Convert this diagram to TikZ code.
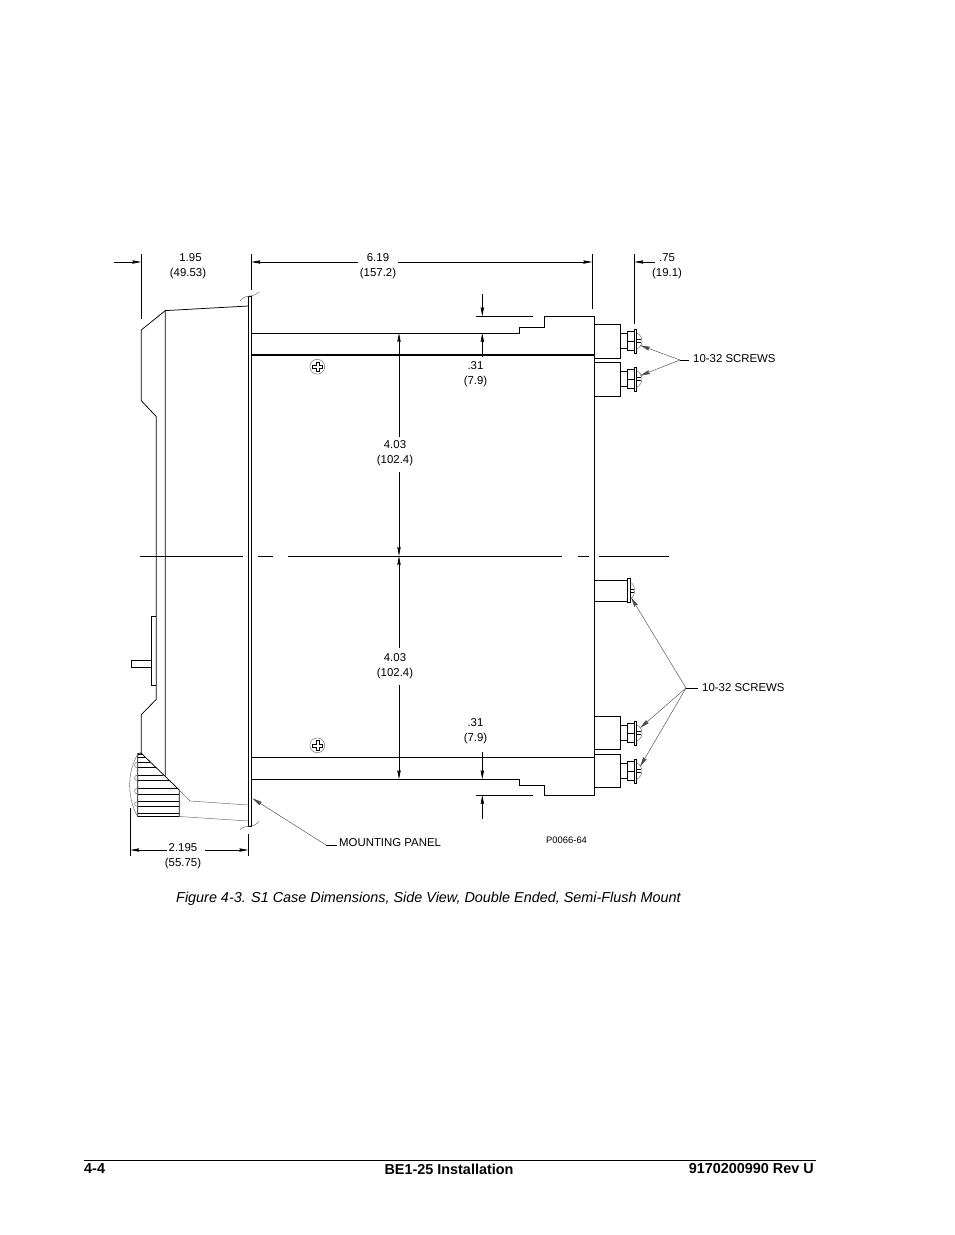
\documentclass[tikz,border=0pt]{standalone}
\usepackage{fontspec}
\setmainfont{Liberation Sans}
\usetikzlibrary{calc,arrows.meta}
\tikzset{
  part/.style={line width=0.75pt,line join=miter},
  thinpart/.style={line width=0.45pt,black!60},
  dimline/.style={line width=0.7pt},
  dimtip/.style={-{Stealth[length=9pt,width=3.4pt,inset=1pt]},line width=0.7pt},
  leader/.style={line width=0.45pt,black!70},
  leadertip/.style={-{Stealth[length=10pt,width=4pt,inset=1pt]},line width=0.45pt,black!70},
  dimtext/.style={font=\fontsize{11.4}{15}\selectfont,align=center,inner sep=0pt},
  labeltext/.style={font=\fontsize{11.4}{14}\selectfont,anchor=west,inner sep=0pt},
  pagetext/.style={font=\fontsize{14.4}{17}\selectfont\bfseries,inner sep=0pt}
}
\begin{document}
\begin{tikzpicture}[x=1pt,y=-1pt]
  \useasboundingbox (0,0) rectangle (954,1235);

  % dimension points
  \coordinate (dimA) at (114,262);
  \coordinate (dimB) at (141.3,262);
  \coordinate (dimC) at (251.3,262);
  \coordinate (dimD) at (592.3,262);
  \coordinate (dimE) at (634.3,262);
  \coordinate (dimF) at (655,262);
  \coordinate (midC) at (399,556);

  % case body
  \draw[part] (141.3,319) -- (141.3,254);
  \draw[part] (251.3,290) -- (251.3,254);
  \draw[part] (592.3,309) -- (592.3,254);
  \draw[part] (634.3,324) -- (634.3,254);
  \draw[part] (165.3,776) -- (165.3,310.6) -- (248.5,306);
  \draw[part] (165.3,310.6) -- (141.3,330) -- (141.3,400.7) -- (156.3,416.6) -- (156.3,699.3)
    -- (141.3,714.7) -- (141.3,753);

  % panel
  \draw[part] (248.5,296) rectangle (251.7,826);
  \draw[thinpart] (240,301) .. controls (243,296.5) and (247,296.5) .. (250,296)
    .. controls (254,295.5) and (256,294.5) .. (259,292);
  \draw[thinpart] (240,829.6) .. controls (243,826.5) and (247,826.5) .. (250,826)
    .. controls (254,825.5) and (257,824.5) .. (259,821);

  % handle
  \draw[part] (156.3,616) -- (151.3,616) -- (151.3,685) -- (156.3,685);
  \draw[part] (151.3,660.3) -- (131.5,660.3) -- (131.5,667.7) -- (151.3,667.7);
  \draw[line width=1.6pt] (131.5,660.3) -- (131.5,667.7);

  % knob
  \draw[part] (141,753) -- (179.3,790) -- (179.3,816.5) -- (137.7,816.5) -- (137.7,753.5) -- (141,753);
  \foreach \hy/\hx in {754/142,757.3/145,762.3/150.3,767.7/155.8,775/163.2,780.7/169.1,788.3/177.0,794/179.3,801.7/179.3,806.7/179.3,813.3/179.3}
    \draw[part] (137.7,\hy) -- (\hx,\hy);
  \foreach \ly/\lz in {762.3/767.7,775/780.7,788.3/794,801.7/806.7}
    \draw[thinpart] (137.7,\ly) .. controls (133.5,\ly) and (133.5,\lz) .. (137.7,\lz);
  \draw[thinpart] (138,754) .. controls (128,770) and (126,795) .. (137.5,816.5);
  \draw[thinpart] (179.3,790) -- (190,801) -- (248.5,805);
  \draw[thinpart] (179.3,816.5) -- (248.5,821);

  % rear of case
  \draw[part] (251.7,333) -- (519.7,333) -- (519.7,327) -- (544.3,327) -- (544.3,316.3) -- (594.3,316.3)
    -- (594.3,795) -- (544.3,795) -- (544.3,785.3) -- (519.7,785.3) -- (519.7,779.3) -- (251.7,779.3);
  \draw[part] (251.7,757.3) -- (594.3,757.3);
  \draw[line width=1.5pt] (251.7,355) -- (594.3,355);

  % terminals
  \foreach \tt/\tb in {324/358.3,362.3/396.3,716/749.3,754.3/787.3}
    \draw[part] (594.3,\tt) -- (620.3,\tt) -- (620.3,\tb) -- (594.3,\tb);
  \draw[part] (594.3,580) rectangle (627.3,601.3);
  \foreach \sy in {341,379,733,771} {
    \draw[part] (620.3,\sy-7.5) rectangle (627.3,\sy+7.5);
    \draw[part] (627.3,\sy-9.5) rectangle (634.3,\sy+9.5);
    \draw[part] (627.3,\sy) -- (634.3,\sy);
    \draw[part] (634.3,\sy-12) rectangle (636.7,\sy+12);
    \draw[thinpart] (636.7,\sy-8) .. controls (640,\sy-7) and (642,\sy-3) .. (642,\sy)
      .. controls (642,\sy+3) and (640,\sy+7) .. (636.7,\sy+8);
    \draw[part] (636.7,\sy-1.7) -- (641,\sy-1.7) (636.7,\sy+1.7) -- (641,\sy+1.7);
  }
  \draw[part] (627.3,578.7) rectangle (630,602.7);
  \draw[thinpart] (630,582) .. controls (633,583) and (634.5,587) .. (634.5,590.7)
    .. controls (634.5,594) and (633,598) .. (630,599);
  \draw[part] (630,589.3) -- (634,589.3) (630,592.3) -- (634,592.3);

  % mounting screws
  \foreach \my in {366.7,745.3} {
    \draw[thinpart] (317.3,\my) circle (7.4);
    \draw[line width=0.6pt] (315.8,\my-4.8) -- (318.8,\my-4.8) -- (318.8,\my-1.5) -- (322,\my-1.5) -- (322,\my+1.5)
      -- (318.8,\my+1.5) -- (318.8,\my+4.8) -- (315.8,\my+4.8) -- (315.8,\my+1.5) -- (312.6,\my+1.5)
      -- (312.6,\my-1.5) -- (315.8,\my-1.5) -- cycle;
  }

  % center line
  \draw[part] (140,556) -- (243,556) (258,556) -- (273,556) (288,556) -- (562,556)
    (578,556) -- (589,556) (599,556) -- (669,556);

  % ticks
  \draw[part] (476,316.3) -- (532.7,316.3);
  \draw[part] (476,795) -- (532.7,795);

  % texts
  \node[dimtext] (txtA) at (188,266.5) {\makebox[0pt]{\hspace{5pt}1.95}\\(49.53)};
  \node[dimtext] (txtB) at (378,266.5) {6.19\\(157.2)};
  \node[dimtext] (txtC) at (667,266.5) {.75\\(19.1)};
  \node[dimtext] (txtD) at (475.5,374.5) {.31\\(7.9)};
  \node[dimtext] (txtE) at (475.5,731) {.31\\(7.9)};
  \node[dimtext] (txtF) at (395,453.5) {4.03\\(102.4)};
  \node[dimtext] (txtG) at (395,666.5) {4.03\\(102.4)};
  \node[dimtext] (txtH) at (183,856.5) {2.195\\(55.75)};
  \node[labeltext] (screwsA) at (693,359) {10-32 SCREWS};
  \node[labeltext] (screwsB) at (702,688) {10-32 SCREWS};
  \node[labeltext] (panelT) at (339,843) {MOUNTING PANEL};
  \node[font=\fontsize{9.4}{11}\selectfont,anchor=west,inner sep=0pt] (drawno) at (546,840) {P0066-64};

  % dimension lines
  \draw[dimtip] (dimA) -- (dimB);
  \draw[dimtip] (358,262) -- (dimC);
  \draw[dimtip] (398,262) -- (dimD);
  \draw[dimtip] (dimF) -- (dimE);
  \draw[dimtip] (482.3,294) -- (482.3,316.3);
  \draw[dimtip] (482.3,357) -- (482.3,333);
  \draw[dimtip] (482.3,751.7) -- (482.3,779.3);
  \draw[dimtip] (482.3,819) -- (482.3,795);
  \draw[dimtip] (399,437) -- (399,333);
  \draw[dimtip] (399,472) -- (midC);
  \draw[dimtip] (399,648) -- (midC);
  \draw[dimtip] (399,685) -- (399,779.3);
  \draw[part] (130.3,808) -- (130.3,856);
  \draw[part] (248.3,834.3) -- (248.3,856);
  \draw[dimtip] (167,850) -- (130.3,850);
  \draw[dimtip] (205,850) -- (248.3,850);

  % leaders
  \coordinate (apexA) at (680,360);
  \coordinate (apexB) at (686,688);
  \coordinate (apexC) at (326,845);
  \draw[part] (apexA) -- (689,360);
  \draw[part] (apexB) -- (698,688);
  \draw[part] (apexC) -- (337,845);
  \draw[leadertip] (apexA) -- (640,345.3);
  \draw[leadertip] (apexA) -- (640,375.7);
  \draw[leadertip] (apexB) -- (631,597.3);
  \draw[leadertip] (apexB) -- (640,728);
  \draw[leadertip] (apexB) -- (640,766.7);
  \draw[leadertip] (apexC) -- (252.3,798.3);

  % caption and page foot
  \node[font=\fontsize{14.4}{17}\selectfont\itshape,anchor=west,inner sep=0pt] (caption) at (176,899)
    {Figure 4-3. S1 Case Dimensions, Side View, Double Ended, Semi-Flush Mount};
  \draw[line width=0.8pt] (84,1160) -- (816,1160);
  \node[pagetext,anchor=west] (footL) at (84,1169) {4-4};
  \node[pagetext] (footC) at (449,1169) {BE1-25 Installation};
  \node[pagetext,anchor=east] (footR) at (814,1169) {9170200990 Rev U};
\end{tikzpicture}
\end{document}
